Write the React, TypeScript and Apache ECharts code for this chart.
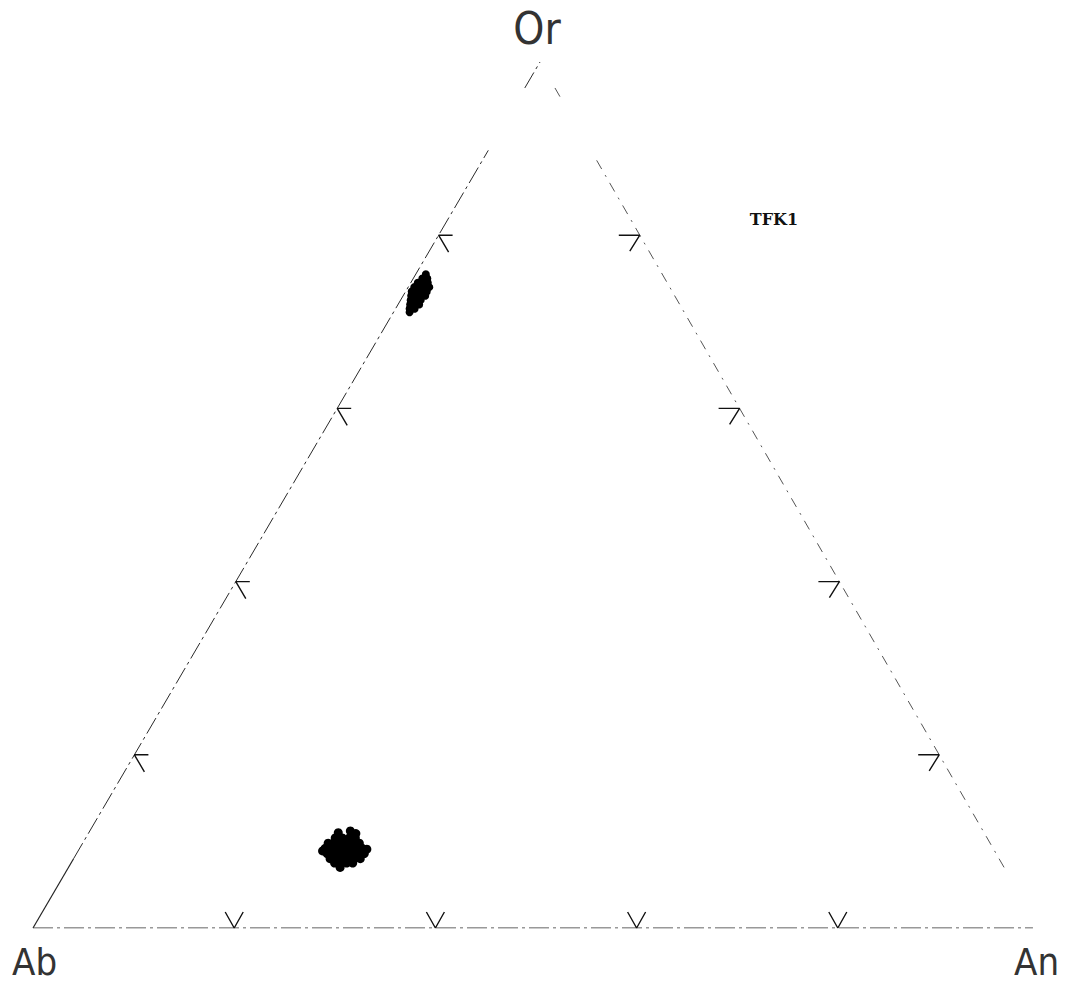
import React, { useEffect, useRef } from "react";
import * as echarts from "echarts";

// ---- Data (ternary percentages) ----
// Each point: [Or, An]; Ab = 100 - Or - An
const orRichCluster: [number, number][] = [
  [75.5, 1.0],
  [75.0, 0.9], [75.0, 1.4],
  [74.5, 0.7], [74.5, 1.2], [74.5, 1.7],
  [74.0, 0.6], [74.0, 1.1], [74.0, 1.6], [74.0, 2.1],
  [73.5, 0.6], [73.5, 1.1], [73.5, 1.6], [73.5, 2.1],
  [73.0, 0.8], [73.0, 1.3], [73.0, 1.8], [73.0, 2.2],
  [72.5, 1.0], [72.5, 1.5], [72.5, 2.0],
  [72.0, 1.2], [72.0, 1.7], [72.0, 2.1],
  [71.5, 1.4], [71.5, 1.9],
  [71.1, 1.6],
];

const plagioclaseCluster: [number, number][] = [
  [10.4, 24.8], [10.4, 25.5], [10.4, 26.2], [10.4, 26.8],
  [9.8, 24.4], [9.8, 25.0], [9.8, 25.6], [9.8, 26.3], [9.8, 26.9], [9.8, 27.5],
  [9.2, 24.4], [9.2, 25.0], [9.2, 25.6], [9.2, 26.2], [9.2, 26.9], [9.2, 27.5], [9.2, 28.1],
  [8.6, 24.9], [8.6, 25.5], [8.6, 26.1], [8.6, 26.7], [8.6, 27.3], [8.6, 28.0], [8.6, 28.6],
  [8.0, 25.5], [8.0, 26.1], [8.0, 26.7], [8.0, 27.3], [8.0, 27.9], [8.0, 28.5],
  [7.5, 26.2], [7.5, 26.8], [7.5, 27.4], [7.5, 28.0],
  [11.0, 24.8], [11.2, 25.9], [10.9, 26.6], [7.0, 27.0], [8.9, 24.3], [9.1, 28.6],
];

const tickValues = [20, 40, 60, 80];
const vertexLabels = ["Ab", "An", "Or"];
const sampleName = "TFK1";

// Visible runs of each edge (percent along the edge, scanned plot has gaps)
const leftEdgeSolidRuns: [number, number][] = [[0, 8]]; // Or %
const leftEdgeDashedRuns: [number, number][] = [[8, 89.8], [97, 100]]; // Or %
const rightEdgeRuns: [number, number][] = [[7, 89.3], [96, 97.6]]; // Or %
const bottomEdgeRuns: [number, number][] = [[0, 99.4]]; // An %

// ---- Geometry (layout) ----
const AN_X = 1006;
const OR_X = 507;
const H = 866;

function toXY(or: number, an: number): [number, number] {
  return [(an * AN_X + or * OR_X) / 100, (or * H) / 100];
}

function segSeries(points: [number, number][], lineStyle: any) {
  return {
    type: "line",
    data: points,
    symbol: "none",
    silent: true,
    lineStyle,
    z: 2,
  };
}

export default function App() {
  const ref = useRef<HTMLDivElement>(null);

  useEffect(() => {
    document.body.style.margin = "0";
    if (!ref.current) return;
    const chart = echarts.init(ref.current, undefined, { renderer: "svg" });

    const series: any[] = [];

    const leftSolid = { color: "#222", width: 1.2, type: "solid" };
    const leftDash = { color: "#2a2a2a", width: 1, type: [18, 4, 3, 4] };
    const rightDash = { color: "#555", width: 1, type: [10, 7, 2, 7] };
    const bottomDash = { color: "#333", width: 1, type: [20, 4, 3, 4] };
    const tickStyle = { color: "#111", width: 1.4, type: "solid" };

    leftEdgeSolidRuns.forEach(([a, b]) =>
      series.push(segSeries([toXY(a, 0), toXY(b, 0)], leftSolid))
    );
    leftEdgeDashedRuns.forEach(([a, b]) =>
      series.push(segSeries([toXY(a, 0), toXY(b, 0)], leftDash))
    );
    rightEdgeRuns.forEach(([a, b]) =>
      series.push(segSeries([toXY(a, 100 - a), toXY(b, 100 - b)], rightDash))
    );
    bottomEdgeRuns.forEach(([a, b]) =>
      series.push(segSeries([toXY(0, a), toXY(0, b)], bottomDash))
    );

    tickValues.forEach((t) => {
      // bottom edge: V
      const b = toXY(0, t);
      series.push(
        segSeries(
          [
            [b[0] - 9, b[1] + 16],
            b,
            [b[0] + 9, b[1] + 16],
          ],
          tickStyle
        )
      );
      // left edge: <
      const l = toXY(t, 0);
      series.push(
        segSeries(
          [
            [l[0] + 14, l[1]],
            l,
            [l[0] + 10, l[1] - 17],
          ],
          tickStyle
        )
      );
      // right edge: >
      const r = toXY(t, 100 - t);
      series.push(
        segSeries(
          [
            [r[0] - 21, r[1]],
            r,
            [r[0] - 10, r[1] - 16],
          ],
          tickStyle
        )
      );
    });

    const pointStyle = { color: "#000", opacity: 1, borderWidth: 0 };
    series.push({
      type: "scatter",
      name: "Or-rich",
      data: orRichCluster.map(([o, a]) => toXY(o, a)),
      symbol: "circle",
      symbolSize: 8,
      itemStyle: pointStyle,
      z: 5,
    });
    series.push({
      type: "scatter",
      name: "Plagioclase",
      data: plagioclaseCluster.map(([o, a]) => toXY(o, a)),
      symbol: "circle",
      symbolSize: 9,
      itemStyle: pointStyle,
      z: 5,
    });

    const labelFont =
      "'DejaVu Sans ExtraLight', 'DejaVu Sans Condensed', 'DejaVu Sans', sans-serif";

    chart.setOption({
      animation: false,
      backgroundColor: "#fff",
      grid: { left: 33, top: 62, width: AN_X, height: H, containLabel: false },
      xAxis: { type: "value", min: 0, max: AN_X, show: false },
      yAxis: { type: "value", min: 0, max: H, show: false },
      series,
      graphic: [
        {
          type: "text",
          x: 537,
          y: 28,
          style: {
            text: vertexLabels[2],
            fontSize: 44,
            fontFamily: labelFont,
            fontWeight: 200,
            fill: "#333",
            align: "center",
            verticalAlign: "middle",
          },
        },
        {
          type: "text",
          x: 12,
          y: 962,
          style: {
            text: vertexLabels[0],
            fontSize: 38,
            fontFamily: labelFont,
            fontWeight: 200,
            fill: "#333",
            align: "left",
            verticalAlign: "middle",
          },
        },
        {
          type: "text",
          x: 1014,
          y: 962,
          style: {
            text: vertexLabels[1],
            fontSize: 38,
            fontFamily: labelFont,
            fontWeight: 200,
            fill: "#333",
            align: "left",
            verticalAlign: "middle",
          },
        },
        {
          type: "text",
          x: 774,
          y: 219,
          style: {
            text: sampleName,
            fontSize: 16,
            fontFamily: "'DejaVu Serif', 'Liberation Serif', serif",
            fontWeight: "bold",
            fill: "#111",
            align: "center",
            verticalAlign: "middle",
          },
        },
      ],
    });

    return () => chart.dispose();
  }, []);

  return <div ref={ref} style={{ width: 1073, height: 990 }} />;
}
